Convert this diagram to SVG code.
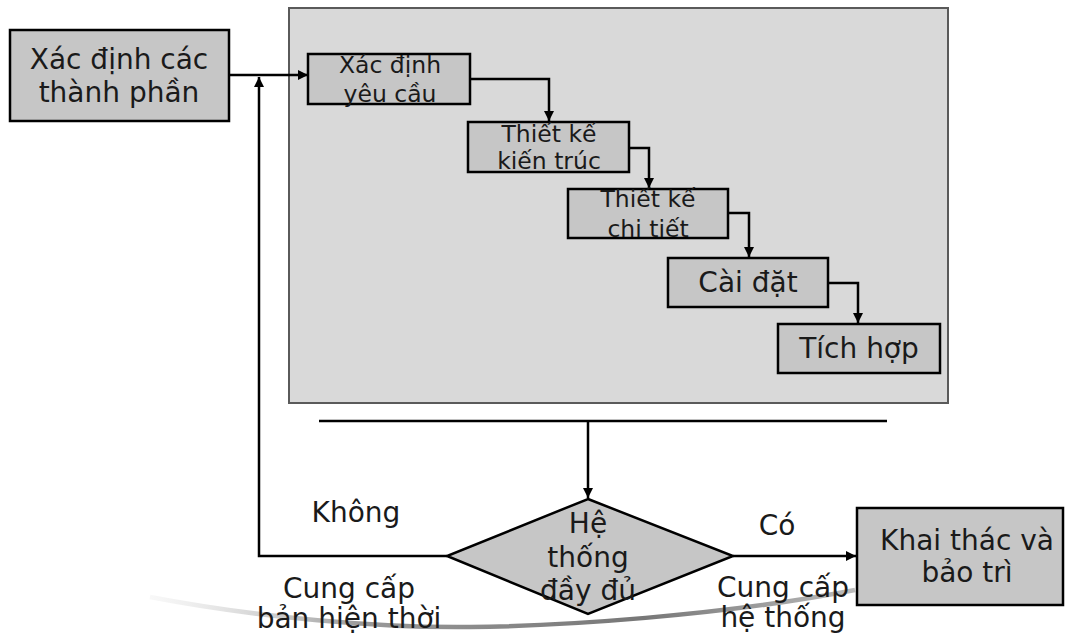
<svg xmlns="http://www.w3.org/2000/svg" width="1073" height="637" viewBox="0 0 1073 637">
<style>
.box{fill:#c6c6c6;stroke:#000;stroke-width:2.5}
.t{font-family:"DejaVu Sans",Verdana,sans-serif;font-size:28px;fill:#1a1a1a;text-anchor:middle}
.s{font-size:23.5px}
.c{fill:none;stroke:#000;stroke-width:2.5}
</style>
<defs>
<marker id="ah" viewBox="0 0 10 10" refX="10" refY="5" markerWidth="4" markerHeight="4" orient="auto" markerUnits="strokeWidth">
<path d="M0,0 L10,5 L0,10 z" fill="#000"/>
</marker>
<linearGradient id="sw" x1="150" y1="0" x2="855" y2="0" gradientUnits="userSpaceOnUse">
<stop offset="0" stop-color="#e8e8e8" stop-opacity="0.3"/>
<stop offset="0.3" stop-color="#999"/>
<stop offset="0.7" stop-color="#777"/>
<stop offset="1" stop-color="#bbb"/>
</linearGradient>
</defs>
<rect width="1073" height="637" fill="#fff"/>
<path d="M150,597 C260,618 380,628 470,627 S720,616 855,590" fill="none" stroke="url(#sw)" stroke-width="4.5"/>
<g id="panel"><rect x="289" y="8" width="659" height="395" fill="#d9d9d9" stroke="#5a5a5a" stroke-width="2"/></g>
<g id="connectors">
<path class="c" d="M229,75 H308" marker-end="url(#ah)"/>
<path class="c" d="M470,79 H549 V121" marker-end="url(#ah)"/>
<path class="c" d="M629,148 H649 V188" marker-end="url(#ah)"/>
<path class="c" d="M728,213 H749 V257" marker-end="url(#ah)"/>
<path class="c" d="M828,283 H858 V323" marker-end="url(#ah)"/>
<path class="c" d="M319,421 H887"/>
<path class="c" d="M588,421 V498" marker-end="url(#ah)"/>
<path class="c" d="M447,556 H259 V77" marker-end="url(#ah)"/>
<path class="c" d="M733,556 H856" marker-end="url(#ah)"/>
</g>
<g id="n-components">
<rect class="box" x="10" y="30" width="219" height="91"/>
<text class="t" x="119" y="69">Xác định các</text>
<text class="t" x="119" y="102">thành phần</text>
</g>
<g id="n-requirements">
<rect class="box" x="308" y="54" width="162" height="50"/>
<text class="t s" x="390" y="73">Xác định</text>
<text class="t s" x="390" y="102">yêu cầu</text>
</g>
<g id="n-architecture">
<rect class="box" x="468" y="122" width="161" height="50"/>
<text class="t s" x="549" y="142">Thiết kế</text>
<text class="t s" x="549" y="169">kiến trúc</text>
</g>
<g id="n-detail">
<rect class="box" x="568" y="189" width="160" height="49"/>
<text class="t s" x="648" y="207">Thiết kế</text>
<text class="t s" x="648" y="237">chi tiết</text>
</g>
<g id="n-implement">
<rect class="box" x="668" y="258" width="160" height="49"/>
<text class="t" x="748" y="292">Cài đặt</text>
</g>
<g id="n-integrate">
<rect class="box" x="778" y="324" width="162" height="49"/>
<text class="t" x="859" y="358">Tích hợp</text>
</g>
<g id="n-decision">
<polygon points="588,499 733,556 588,614 447,556" fill="#c6c6c6" stroke="#000" stroke-width="2.5"/>
<text class="t" x="588" y="533">Hệ</text>
<text class="t" x="588" y="567">thống</text>
<text class="t" x="588" y="600">đầy đủ</text>
</g>
<g id="n-maintain">
<rect class="box" x="857" y="508" width="206" height="97"/>
<text class="t" x="967" y="550">Khai thác và</text>
<text class="t" x="967" y="582">bảo trì</text>
</g>
<g id="labels">
<text class="t" x="356" y="522">Không</text>
<text class="t" x="349" y="598">Cung cấp</text>
<text class="t" x="349" y="628">bản hiện thời</text>
<text class="t" x="777" y="535">Có</text>
<text class="t" x="783" y="597">Cung cấp</text>
<text class="t" x="783" y="627">hệ thống</text>
</g>
</svg>
